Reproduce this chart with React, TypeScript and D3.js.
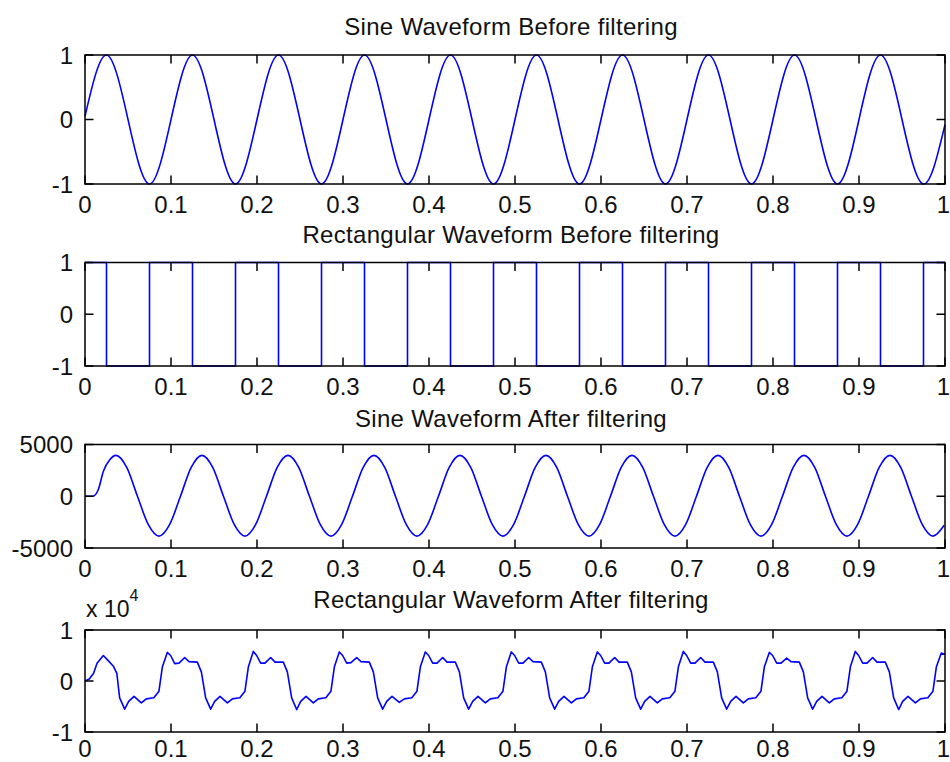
import React, { useEffect, useRef } from 'react';
import * as d3 from 'd3';

type Pt = [number, number];

const xTicks = [0, 0.1, 0.2, 0.3, 0.4, 0.5, 0.6, 0.7, 0.8, 0.9, 1];
const xTickLabels = ['0', '0.1', '0.2', '0.3', '0.4', '0.5', '0.6', '0.7', '0.8', '0.9', '1'];

const titles = [
  'Sine Waveform Before filtering',
  'Rectangular Waveform Before filtering',
  'Sine Waveform After filtering',
  'Rectangular Waveform After filtering',
];

const yTicks = [
  [-1, 0, 1],
  [-1, 0, 1],
  [-5000, 0, 5000],
  [-1, 0, 1],
];
const yTickLabels = [
  ['-1', '0', '1'],
  ['-1', '0', '1'],
  ['-5000', '0', '5000'],
  ['-1', '0', '1'],
];
const yDomains: Pt[] = [[-1, 1], [-1, 1], [-5000, 5000], [-1, 1]];

// sine before filtering (quarter-period points)
const sineBefore: Pt[] = [
  [0, 0.05], [0.025, 1], [0.05, 0], [0.075, -1],
  [0.1, 0], [0.125, 1], [0.15, 0], [0.175, -1],
  [0.2, 0], [0.225, 1], [0.25, 0], [0.275, -1],
  [0.3, 0], [0.325, 1], [0.35, 0], [0.375, -1],
  [0.4, 0], [0.425, 1], [0.45, 0], [0.475, -1],
  [0.5, 0], [0.525, 1], [0.55, 0], [0.575, -1],
  [0.6, 0], [0.625, 1], [0.65, 0], [0.675, -1],
  [0.7, 0], [0.725, 1], [0.75, 0], [0.775, -1],
  [0.8, 0], [0.825, 1], [0.85, 0], [0.875, -1],
  [0.9, 0], [0.925, 1], [0.95, 0], [0.975, -1],
  [1, -0.08],
];

// rectangular before filtering: switching times and the level after each
const rectBeforeTimes = [
  0, 0.025, 0.075, 0.125, 0.175, 0.225, 0.275, 0.325, 0.375, 0.425, 0.475,
  0.525, 0.575, 0.625, 0.675, 0.725, 0.775, 0.825, 0.875, 0.925, 0.975, 1,
];
const rectBeforeLevels = [
  1, -1, 1, -1, 1, -1, 1, -1, 1, -1, 1,
  -1, 1, -1, 1, -1, 1, -1, 1, -1, 1, 1,
];

// sine after filtering
const sineAfter: Pt[] = [
  [0, 0], [0.009, 0], [0.0155, 650], [0.0213, 2400], [0.029, 3550], [0.036, 3950], [0.0485, 2790], [0.061, 0], [0.0735, -2720], [0.086, -3850], [0.0985, -2720],
  [0.111, 0], [0.1235, 2790], [0.136, 3950], [0.1485, 2790], [0.161, 0], [0.1735, -2720], [0.186, -3850], [0.1985, -2720],
  [0.211, 0], [0.2235, 2790], [0.236, 3950], [0.2485, 2790], [0.261, 0], [0.2735, -2720], [0.286, -3850], [0.2985, -2720],
  [0.311, 0], [0.3235, 2790], [0.336, 3950], [0.3485, 2790], [0.361, 0], [0.3735, -2720], [0.386, -3850], [0.3985, -2720],
  [0.411, 0], [0.4235, 2790], [0.436, 3950], [0.4485, 2790], [0.461, 0], [0.4735, -2720], [0.486, -3850], [0.4985, -2720],
  [0.511, 0], [0.5235, 2790], [0.536, 3950], [0.5485, 2790], [0.561, 0], [0.5735, -2720], [0.586, -3850], [0.5985, -2720],
  [0.611, 0], [0.6235, 2790], [0.636, 3950], [0.6485, 2790], [0.661, 0], [0.6735, -2720], [0.686, -3850], [0.6985, -2720],
  [0.711, 0], [0.7235, 2790], [0.736, 3950], [0.7485, 2790], [0.761, 0], [0.7735, -2720], [0.786, -3850], [0.7985, -2720],
  [0.811, 0], [0.8235, 2790], [0.836, 3950], [0.8485, 2790], [0.861, 0], [0.8735, -2720], [0.886, -3850], [0.8985, -2720],
  [0.911, 0], [0.9235, 2790], [0.936, 3950], [0.9485, 2790], [0.961, 0], [0.9735, -2720], [0.986, -3850], [0.999, -2800],
];

// rectangular after filtering (x 10^4)
const rectAfter: Pt[] = [
  [0, 0], [0.005, 0.04], [0.01, 0.15], [0.014, 0.35], [0.0213, 0.5], [0.027, 0.4], [0.033, 0.29], [0.037, 0.15], [0.0403, -0.33], [0.0461, -0.55], [0.0508, -0.4], [0.057, -0.3], [0.0655, -0.43], [0.0713, -0.35],
  [0.08, -0.33], [0.086, -0.2], [0.09, 0.28], [0.0957, 0.56], [0.0996, 0.5], [0.1043, 0.34], [0.1093, 0.35], [0.1159, 0.46], [0.1209, 0.38], [0.1306, 0.37], [0.1353, 0.18], [0.1403, -0.33], [0.1461, -0.55], [0.1508, -0.4], [0.157, -0.3], [0.1655, -0.43], [0.1713, -0.35],
  [0.18, -0.33], [0.186, -0.2], [0.19, 0.28], [0.1957, 0.58], [0.1996, 0.5], [0.2043, 0.35], [0.2093, 0.35], [0.2159, 0.46], [0.2209, 0.37], [0.2306, 0.37], [0.2353, 0.18], [0.2403, -0.33], [0.2461, -0.56], [0.2508, -0.4], [0.257, -0.3], [0.2655, -0.43], [0.2713, -0.35],
  [0.28, -0.33], [0.286, -0.2], [0.29, 0.28], [0.2957, 0.57], [0.2996, 0.5], [0.3043, 0.35], [0.3093, 0.36], [0.3159, 0.46], [0.3209, 0.38], [0.3306, 0.37], [0.3353, 0.18], [0.3403, -0.33], [0.3461, -0.55], [0.3508, -0.4], [0.357, -0.3], [0.3655, -0.42], [0.3713, -0.35],
  [0.38, -0.33], [0.386, -0.2], [0.39, 0.28], [0.3957, 0.57], [0.3996, 0.5], [0.4043, 0.35], [0.4093, 0.35], [0.4159, 0.46], [0.4209, 0.37], [0.4306, 0.37], [0.4353, 0.18], [0.4403, -0.33], [0.4461, -0.55], [0.4508, -0.4], [0.457, -0.3], [0.4655, -0.43], [0.4713, -0.35],
  [0.48, -0.33], [0.486, -0.2], [0.49, 0.28], [0.4957, 0.57], [0.4996, 0.5], [0.5043, 0.35], [0.5093, 0.35], [0.5159, 0.46], [0.5209, 0.38], [0.5306, 0.37], [0.5353, 0.18], [0.5403, -0.33], [0.5461, -0.55], [0.5508, -0.4], [0.557, -0.3], [0.5655, -0.43], [0.5713, -0.35],
  [0.58, -0.33], [0.586, -0.2], [0.59, 0.28], [0.5957, 0.57], [0.5996, 0.5], [0.6043, 0.35], [0.6093, 0.35], [0.6159, 0.46], [0.6209, 0.37], [0.6306, 0.37], [0.6353, 0.18], [0.6403, -0.33], [0.6461, -0.55], [0.6508, -0.4], [0.657, -0.3], [0.6655, -0.43], [0.6713, -0.35],
  [0.68, -0.33], [0.686, -0.2], [0.69, 0.28], [0.6957, 0.58], [0.6996, 0.5], [0.7043, 0.35], [0.7093, 0.35], [0.7159, 0.46], [0.7209, 0.37], [0.7306, 0.37], [0.7353, 0.18], [0.7403, -0.33], [0.7461, -0.55], [0.7508, -0.4], [0.757, -0.3], [0.7655, -0.43], [0.7713, -0.35],
  [0.78, -0.33], [0.786, -0.2], [0.79, 0.28], [0.7957, 0.56], [0.7996, 0.5], [0.8043, 0.35], [0.8093, 0.35], [0.8159, 0.45], [0.8209, 0.38], [0.8306, 0.37], [0.8353, 0.18], [0.8403, -0.33], [0.8461, -0.55], [0.8508, -0.4], [0.857, -0.3], [0.8655, -0.43], [0.8713, -0.35],
  [0.88, -0.33], [0.886, -0.2], [0.89, 0.28], [0.8957, 0.58], [0.8996, 0.5], [0.9043, 0.35], [0.9093, 0.35], [0.9159, 0.46], [0.9209, 0.37], [0.9306, 0.37], [0.9353, 0.18], [0.9403, -0.33], [0.9461, -0.56], [0.9508, -0.4], [0.957, -0.3], [0.9655, -0.43], [0.9713, -0.35],
  [0.98, -0.33], [0.986, -0.2], [0.99, 0.28], [0.9957, 0.55], [1, 0.52],
];

const FONT = 'Arial, "Liberation Sans", Helvetica, sans-serif';

export default function App() {
  const chart = useRef<SVGSVGElement>(null);

  useEffect(() => {
    const width = 950;
    const height = 762;
    const left = 85;
    const right = 945;
    const tops = [55, 262.5, 444.5, 630];
    const bottoms = [184, 366, 548, 732];
    const titleY = [35, 243, 427, 608];
    // last row sits a little higher so its labels stay inside the window
    const xLabelY = [213, 395, 577, 757];
    const tickLen = 8.5;

    const svg = d3.select(chart.current);
    svg.selectAll('*').remove();
    svg.attr('width', width).attr('height', height);

    const x = d3.scaleLinear().domain([0, 1]).range([left, right]);

    const rectBefore: Pt[] = rectBeforeTimes.map((t, j) => [t, rectBeforeLevels[j]]);
    const series = [sineBefore, rectBefore, sineAfter, rectAfter];
    const curves = [d3.curveNatural, d3.curveStepAfter, d3.curveMonotoneX, d3.curveLinear];

    series.forEach((data, i) => {
      const y = d3.scaleLinear().domain(yDomains[i]).range([bottoms[i], tops[i]]);
      const g = svg.append('g');

      const line = d3
        .line<Pt>()
        .x((d) => x(d[0]))
        .y((d) => y(d[1]))
        .curve(curves[i]);

      g.append('path')
        .datum(data)
        .attr('d', line)
        .attr('fill', 'none')
        .attr('stroke', '#0000ff')
        .attr('stroke-width', 1.6)
        .attr('stroke-linejoin', 'round');

      // frame
      g.append('rect')
        .attr('x', left)
        .attr('y', tops[i])
        .attr('width', right - left)
        .attr('height', bottoms[i] - tops[i])
        .attr('fill', 'none')
        .attr('stroke', '#000')
        .attr('stroke-width', 1.5);

      // x ticks, inward on bottom and top
      xTicks.forEach((t) => {
        g.append('line')
          .attr('x1', x(t)).attr('x2', x(t))
          .attr('y1', bottoms[i]).attr('y2', bottoms[i] - tickLen)
          .attr('stroke', '#000').attr('stroke-width', 1.5);
        g.append('line')
          .attr('x1', x(t)).attr('x2', x(t))
          .attr('y1', tops[i]).attr('y2', tops[i] + tickLen)
          .attr('stroke', '#000').attr('stroke-width', 1.5);
      });

      // y ticks, inward on left and right
      yTicks[i].forEach((v) => {
        g.append('line')
          .attr('x1', left).attr('x2', left + tickLen)
          .attr('y1', y(v)).attr('y2', y(v))
          .attr('stroke', '#000').attr('stroke-width', 1.5);
        g.append('line')
          .attr('x1', right).attr('x2', right - tickLen)
          .attr('y1', y(v)).attr('y2', y(v))
          .attr('stroke', '#000').attr('stroke-width', 1.5);
      });

      // the last label would run past the window edge, so pin it to the edge
      g.selectAll('text.xl')
        .data(xTicks)
        .enter()
        .append('text')
        .attr('class', 'xl')
        .attr('x', (t) => (t === 1 ? width : x(t)))
        .attr('y', xLabelY[i])
        .attr('text-anchor', (t) => (t === 1 ? 'end' : 'middle'))
        .style('font-family', FONT)
        .style('font-size', '24px')
        .style('fill', '#111')
        .text((_, j) => xTickLabels[j]);

      g.selectAll('text.yl')
        .data(yTicks[i])
        .enter()
        .append('text')
        .attr('class', 'yl')
        .attr('x', 73)
        .attr('y', (v) => y(v) + 8.6)
        .attr('text-anchor', 'end')
        .style('font-family', FONT)
        .style('font-size', '24px')
        .style('fill', '#111')
        .text((_, j) => yTickLabels[i][j]);

      g.append('text')
        .attr('x', 511)
        .attr('y', titleY[i])
        .attr('text-anchor', 'middle')
        .style('font-family', FONT)
        .style('font-size', '24px')
        .style('letter-spacing', '0.3px')
        .style('fill', '#111')
        .text(titles[i]);
    });

    // exponent label for the last panel
    const expo = svg
      .append('text')
      .attr('x', 86)
      .attr('y', 616.5)
      .style('font-family', FONT)
      .style('font-size', '23px')
      .style('fill', '#111');
    expo.append('tspan').text('x 10');
    expo.append('tspan').attr('dy', -16).style('font-size', '16px').text('4');
  });

  return (
    <div id="chartArea">
      <svg ref={chart} style={{ position: 'absolute', left: 0, top: 0, background: '#fff' }}></svg>
    </div>
  );
}
